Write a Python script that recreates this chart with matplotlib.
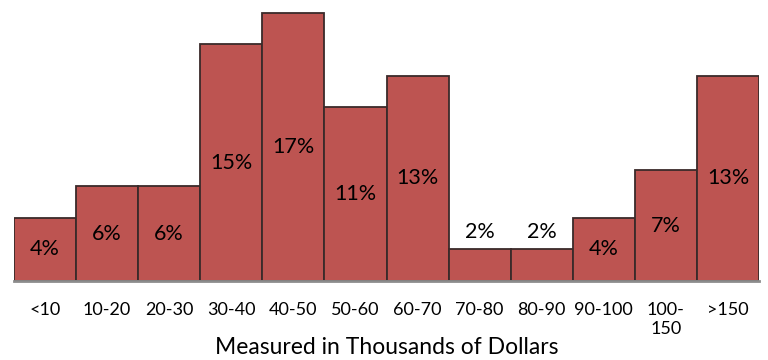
import matplotlib.pyplot as plt
import numpy as np

# income brackets (thousands of dollars) and share of households in each
brackets = ["<10", "10-20", "20-30", "30-40", "40-50", "50-60", "60-70",
            "70-80", "80-90", "90-100", "100-\n150", ">150"]
shares = [4, 6, 6, 15, 17, 11, 13, 2, 2, 4, 7, 13]

plt.rcParams['font.family'] = ['Lato', 'DejaVu Sans']

fig = plt.figure(figsize=(7.68, 3.6), dpi=100)
ax = fig.add_axes([14 / 768, 79 / 360, 745 / 768, 281 / 360])

x = np.arange(len(brackets))
ax.bar(x, shares, width=1.0, color="#BD5451", edgecolor="#3a2a2a",
       linewidth=1.3)

# percentages inside the bars, above the short ones
for xi, v in zip(x, shares):
    if v >= 4:
        ax.text(xi, v / 2, f"{v}%", ha="center", va="center", fontsize=15.5)
    else:
        ax.text(xi, v + 0.45, f"{v}%", ha="center", va="bottom", fontsize=15.5)

ax.set_xlim(-0.5, len(brackets) - 0.5)
ax.set_ylim(0, 17.8)
ax.set_xticks(x)
ax.set_xticklabels(brackets, fontsize=13, linespacing=1.25)
ax.tick_params(axis="x", length=0, pad=15)
ax.set_yticks([])
for s in ["top", "left", "right"]:
    ax.spines[s].set_visible(False)
ax.spines["bottom"].set_color("#8c8c8c")
ax.spines["bottom"].set_linewidth(2)
ax.set_xlabel("Measured in Thousands of Dollars", fontsize=16.5, va="center")
ax.xaxis.set_label_coords(0.5, -0.238)

fig.savefig("out.png", dpi=100)
